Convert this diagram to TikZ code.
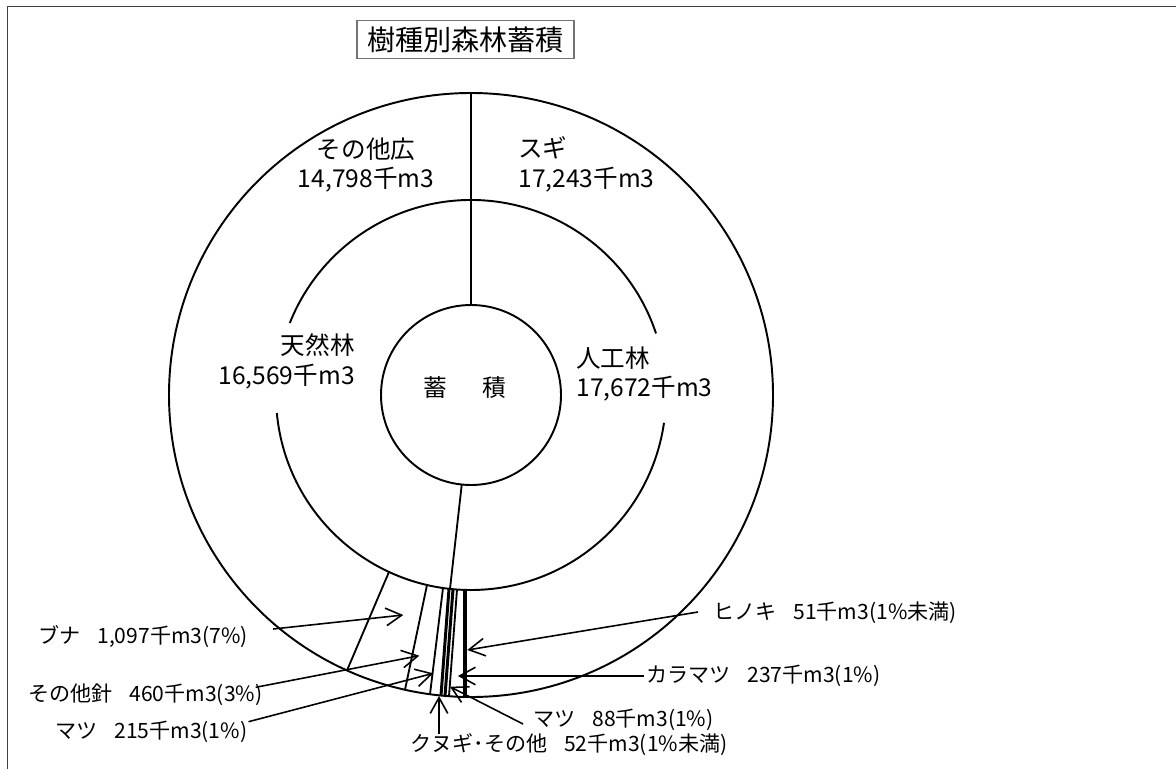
\documentclass[tikz,border=0pt]{standalone}
\usepackage{fontspec}
\setmainfont{Noto Sans CJK JP}
\usetikzlibrary{arrows.meta,calc}
\tikzset{
  ring/.style={line width=1.1pt},
  seg/.style={line width=1.05pt},
  segthick/.style={line width=1.7pt},
  ptr/.style={line width=0.9pt,-{Straight Barb[length=9pt,width=10pt,line width=0.9pt]}},
  ringlabel/.style={inner sep=0pt,font=\fontsize{14}{17}\selectfont},
  leaflabel/.style={inner sep=0pt,font=\fontsize{12}{14}\selectfont}
}
\newcommand{\gap}{\hspace{0.8em}}

\begin{document}
\begin{tikzpicture}[x=0.02cm,y=0.02cm]
  \useasboundingbox (0,0) rectangle (1176,769);
  \draw[black!75,line width=0.8pt] (7.5,0) -- (7.5,762.5) -- (1176,762.5);

  \node[draw=black!55,line width=0.6pt,minimum width=4.34cm,minimum height=0.74cm,
    font=\fontsize{16}{18}\selectfont] (title) at (465.5,729.5) {樹種別森林蓄積};

  \coordinate (c) at (471,374);
  \draw[ring] (c) circle[radius=302];
  \draw[ring] (c) ++(18.4:195) arc[start angle=18.4,end angle=158.3,radius=195];
  \draw[ring] (c) ++(185.3:195) arc[start angle=185.3,end angle=351.8,radius=195];
  \draw[ring] (c) circle[radius=90];
  \draw[ring] (471,464) -- (471,676);
  \draw[seg] (461.7,284) -- (450,180.2);

  \draw[seg] (389,197.1) -- (347,98.6);
  \draw[seg] (427,184) -- (405,79.3);
  \draw[seg] (443,181) -- (430,74.8);
  \draw[segthick] (449,180.2) -- (441,73.5);
  \draw[segthick] (453,179.8) -- (445,73);
  \draw[seg] (457,179.5) -- (449,72.8);
  \draw[segthick,line width=2.3pt] (465,179.1) -- (465,72.1);

  \node[font=\fontsize{13.5}{16}\selectfont] (chiku) at (465,381) {蓄\hspace{1.5em}積};

  \node[ringlabel,align=center] (sonotako) at (366,604) {その他広\\14,798千m3};
  \node[ringlabel,align=left,anchor=west] (sugi) at (518,605) {スギ\\17,243千m3};
  \node[ringlabel,align=right,anchor=east] (tennen) at (355,408) {天然林\\16,569千m3};
  \node[ringlabel,align=left,anchor=west] (jinko) at (576,395) {人工林\\17,672千m3};

  \node[leaflabel,anchor=west] (buna) at (38,132) {ブナ\gap 1,097千m3(7\%)};
  \node[leaflabel,anchor=west] (sonotashin) at (28,74) {その他針\gap 460千m3(3\%)};
  \node[leaflabel,anchor=west] (matsuT) at (55,37.3) {マツ\gap 215千m3(1\%)};
  \node[leaflabel,anchor=west] (hinoki) at (713,156) {ヒノキ\gap 51千m3(1\%未満)};
  \node[leaflabel,anchor=west] (karamatsu) at (646,93) {カラマツ\gap 237千m3(1\%)};
  \node[leaflabel,anchor=west] (matsuJ) at (533,49) {マツ\gap 88千m3(1\%)};
  \node[leaflabel,anchor=west] (kunugi) at (410,24) {クヌギ･その他\gap 52千m3(1\%未満)};

  \coordinate (bunaT) at (403.3,154);
  \coordinate (sonotashinT) at (419.3,113.3);
  \coordinate (matsuTT) at (433.3,95.7);
  \coordinate (hinokiT) at (467.3,119);
  \coordinate (karamatsuT) at (458,93);
  \coordinate (matsuJT) at (450,82.3);
  \coordinate (kunugiT) at (439,73);

  \draw[ptr] ($(buna.east)+(25,8)$) -- (bunaT);
  \draw[ptr] ($(sonotashin.east)+(-7,7.7)$) -- (sonotashinT);
  \draw[ptr] ($(matsuT.east)+(1,10)$) -- (matsuTT);
  \draw[ptr] ($(hinoki.west)+(-15,1)$) -- (hinokiT);
  \draw[ptr] ($(karamatsu.west)+(-2,0)$) -- (karamatsuT);
  \draw[ptr] ($(matsuJ.west)+(-10,-4)$) -- (matsuJT);
  \draw[ptr] (kunugi.north -| kunugiT) -- (kunugiT);
\end{tikzpicture}
\end{document}
